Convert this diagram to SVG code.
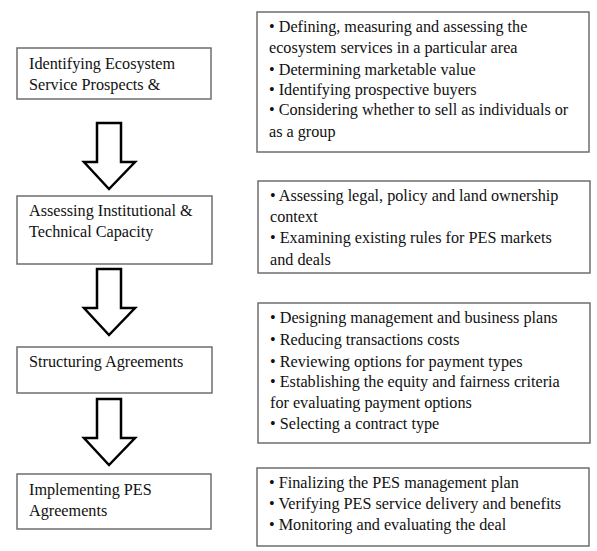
<svg xmlns="http://www.w3.org/2000/svg" width="597" height="551" viewBox="0 0 597 551">
  <style>
    .box { fill: #ffffff; stroke: #6e6e6e; stroke-width: 1.5; }
    .arrow { fill: #ffffff; stroke: #000000; stroke-width: 2.5; stroke-linejoin: miter; }
    text { font-family: "Liberation Serif", "Times New Roman", serif; font-size: 16.2px; fill: #111111; }
  </style>
  <defs>
    <!-- hollow block arrow pointing down, origin at shaft top-left -->
    <path id="downArrow" d="M0,0 H24 V39 H38 L12,66 L-13,39 H0 Z"/>
  </defs>
  <rect width="597" height="551" fill="#ffffff"/>

  <!-- step nodes -->
  <g id="step1">
    <rect class="box" x="17" y="48" width="194" height="51"/>
    <text x="29" y="69">Identifying Ecosystem</text>
    <text x="29" y="90">Service Prospects &amp;</text>
  </g>
  <g id="step2">
    <rect class="box" x="17" y="196" width="195" height="68"/>
    <text x="29" y="216">Assessing Institutional &amp;</text>
    <text x="29" y="237">Technical Capacity</text>
  </g>
  <g id="step3">
    <rect class="box" x="17" y="347" width="195" height="46"/>
    <text x="29" y="367">Structuring Agreements</text>
  </g>
  <g id="step4">
    <rect class="box" x="17" y="474" width="194" height="55"/>
    <text x="29" y="495">Implementing PES</text>
    <text x="29" y="516">Agreements</text>
  </g>

  <!-- detail nodes -->
  <g id="detail1">
    <rect class="box" x="257" y="12" width="332" height="140"/>
    <text x="269" y="32">• Defining, measuring and assessing the</text>
    <text x="269" y="53">ecosystem services in a particular area</text>
    <text x="269" y="75">• Determining marketable value</text>
    <text x="269" y="95">• Identifying prospective buyers</text>
    <text x="269" y="115">• Considering whether to sell as individuals or</text>
    <text x="269" y="137">as a group</text>
  </g>
  <g id="detail2">
    <rect class="box" x="258" y="181" width="332" height="92"/>
    <text x="270" y="201">• Assessing legal, policy and land ownership</text>
    <text x="270" y="222">context</text>
    <text x="270" y="243">• Examining existing rules for PES markets</text>
    <text x="270" y="265">and deals</text>
  </g>
  <g id="detail3">
    <rect class="box" x="258" y="303" width="332" height="140"/>
    <text x="270" y="323">• Designing management and business plans</text>
    <text x="270" y="345">• Reducing transactions costs</text>
    <text x="270" y="367">• Reviewing options for payment types</text>
    <text x="270" y="387">• Establishing the equity and fairness criteria</text>
    <text x="270" y="408">for evaluating payment options</text>
    <text x="270" y="429">• Selecting a contract type</text>
  </g>
  <g id="detail4">
    <rect class="box" x="257" y="468" width="332" height="78"/>
    <text x="269" y="488">• Finalizing the PES management plan</text>
    <text x="269" y="509">• Verifying PES service delivery and benefits</text>
    <text x="269" y="530">• Monitoring and evaluating the deal</text>
  </g>

  <!-- connectors -->
  <g id="connectors">
    <use href="#downArrow" class="arrow" transform="translate(97,123)"/>
    <use href="#downArrow" class="arrow" transform="translate(97,269)"/>
    <use href="#downArrow" class="arrow" transform="translate(97,399)"/>
  </g>
</svg>
